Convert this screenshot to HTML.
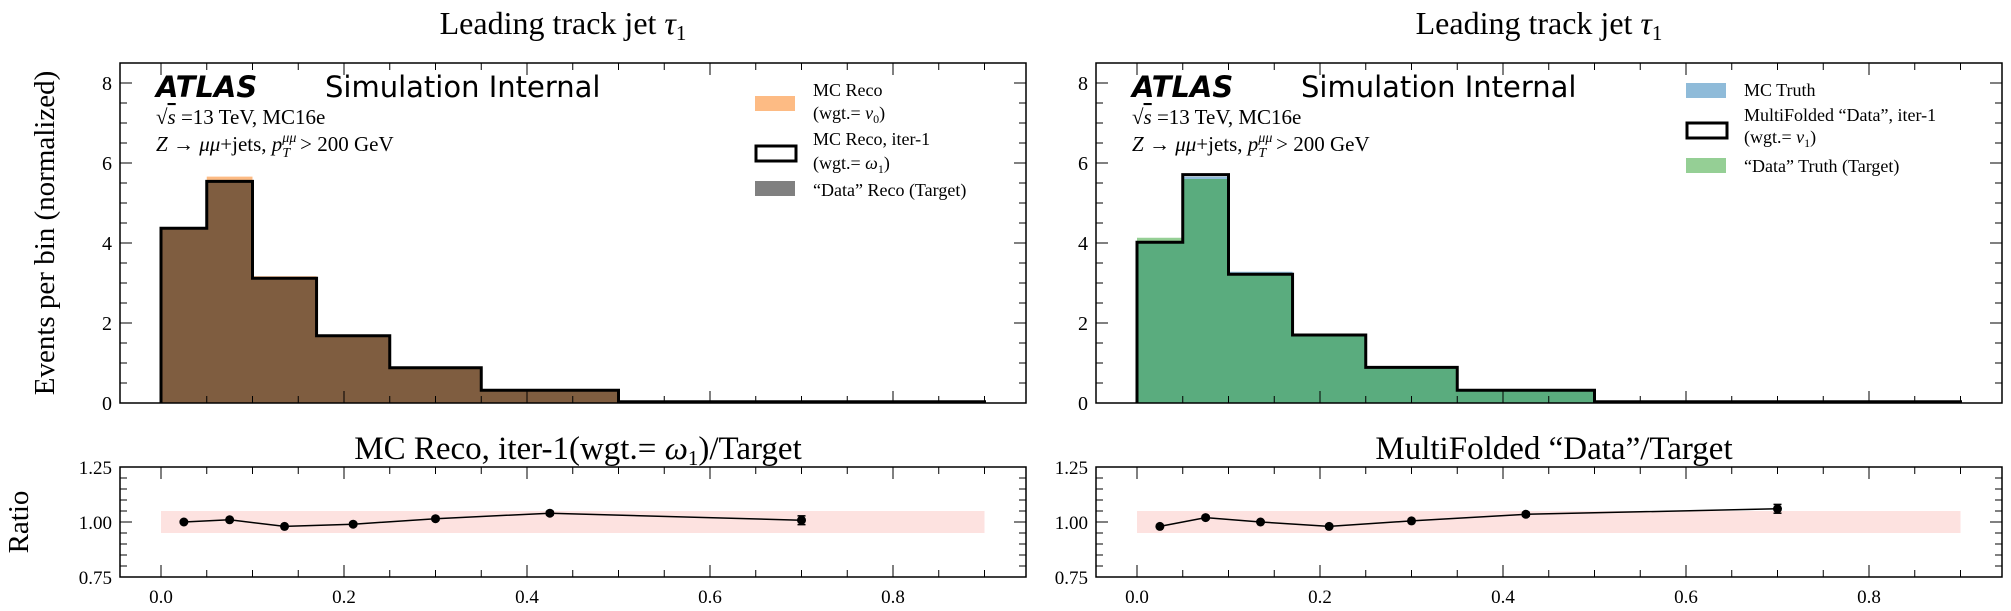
<!DOCTYPE html>
<html><head><meta charset="utf-8">
<style>
html,body{margin:0;padding:0;background:#fff;}
svg{display:block;}
text{font-family:"Liberation Serif","DejaVu Serif",serif;fill:#000;}
.sans{font-family:"DejaVu Sans","Liberation Sans",sans-serif;}
</style></head>
<body>
<svg id="chart" width="2011" height="611" viewBox="0 0 2011 611" xmlns="http://www.w3.org/2000/svg"></svg>
<script>
const edges = [0, 0.05, 0.1, 0.17, 0.25, 0.35, 0.5, 0.9];
const xTicks = [0.0, 0.2, 0.4, 0.6, 0.8];
const xTickLabels = ["0.0", "0.2", "0.4", "0.6", "0.8"];
const yTicks = [0, 2, 4, 6, 8];
const rTicks = [0.75, 1.00, 1.25];
const rTickLabels = ["0.75", "1.00", "1.25"];
const centers = [0.025, 0.075, 0.135, 0.21, 0.3, 0.425, 0.7];

// left panel
const leftMC = [4.37, 5.66, 3.17, 1.68, 0.88, 0.32, 0.03];
const leftIter = [4.37, 5.54, 3.12, 1.68, 0.88, 0.32, 0.03];
const leftRatio = [1.00, 1.01, 0.98, 0.99, 1.015, 1.04, 1.008];
const leftErr = [0.004, 0.005, 0.005, 0.006, 0.007, 0.008, 0.02];
// right panel
const rightTruth = [4.02, 5.66, 3.28, 1.70, 0.89, 0.32, 0.03];
const rightTarget = [4.13, 5.60, 3.22, 1.70, 0.89, 0.32, 0.03];
const rightIter = [4.02, 5.71, 3.22, 1.70, 0.89, 0.32, 0.03];
const rightRatio = [0.98, 1.02, 1.00, 0.98, 1.005, 1.035, 1.06];
const rightErr = [0.005, 0.007, 0.005, 0.005, 0.007, 0.008, 0.02];

const NS = "http://www.w3.org/2000/svg";
const svg = document.getElementById('chart');
function el(tag, attrs, parent, txt) {
  const e = document.createElementNS(NS, tag);
  for (const k in attrs) e.setAttribute(k, attrs[k]);
  if (txt !== undefined) e.textContent = txt;
  (parent || svg).appendChild(e);
  return e;
}

function panel(x0, opts) {
  const W = 906;
  const xs = v => x0 + 41 + v * 915;
  const mTop = 63, mBot = 403;
  const ys = v => mBot - v * 40;
  const rTop = 467, rBot = 577;
  const yr = v => rBot - (v - 0.75) * 220;
  const g = el('g', {});
  
  

  const t = el('text', {x: x0 + W / 2 - 10, y: 34, 'text-anchor': 'middle', 'font-size': 32}, g);
  
  
  t.innerHTML = 'Leading track jet <tspan font-style="italic">τ</tspan><tspan font-size="21" dy="6">1</tspan>';

  function stepPath(vals) {
    let d = `M${xs(edges[0])},${ys(0)}`;
    vals.forEach((v, i) => { d += ` L${xs(edges[i])},${ys(v)} L${xs(edges[i + 1])},${ys(v)}`; });
    d += ` L${xs(edges[edges.length - 1])},${ys(0)} Z`;
    return d;
  }
  opts.fills.forEach(f => {
    const p = el('path', {d: stepPath(f.vals), fill: f.color, stroke: 'none'}, g);
    
    
  });
  let d = `M${xs(edges[0])},${ys(0)}`;
  opts.line.forEach((v, i) => { d += ` L${xs(edges[i])},${ys(v)} L${xs(edges[i + 1])},${ys(v)}`; });
  d += ` L${xs(edges[edges.length - 1])},${ys(0)}`;
  const ol = el('path', {d: d, fill: 'none', stroke: '#000', 'stroke-width': 3}, g);
  
  

  const fr = el('rect', {x: x0, y: mTop, width: W, height: mBot - mTop, fill: 'none', stroke: '#000', 'stroke-width': 1.5}, g);
  
  
  for (let v = 0; v <= 0.9001; v += 0.05) {
    const maj = Math.abs(v / 0.2 - Math.round(v / 0.2)) < 1e-6;
    const L = maj ? 12 : 7;
    el('line', {x1: xs(v), x2: xs(v), y1: mBot, y2: mBot - L, stroke: '#000', 'stroke-width': 1}, g);
    el('line', {x1: xs(v), x2: xs(v), y1: mTop, y2: mTop + L, stroke: '#000', 'stroke-width': 1}, g);
  }
  for (let v = 0; v <= 8.5001; v += 0.5) {
    const maj = Math.abs(v / 2 - Math.round(v / 2)) < 1e-6;
    const L = maj ? 12 : 7;
    el('line', {x1: x0, x2: x0 + L, y1: ys(v), y2: ys(v), stroke: '#000', 'stroke-width': 1}, g);
    el('line', {x1: x0 + W, x2: x0 + W - L, y1: ys(v), y2: ys(v), stroke: '#000', 'stroke-width': 1}, g);
  }
  yTicks.forEach(v => {
    const tl = el('text', {x: x0 - 8, y: ys(v) + 7, 'text-anchor': 'end', 'font-size': 20}, g, String(v));
    
    
  });

  const a = el('text', {x: x0 + 36, y: 97, 'font-size': 29, 'font-weight': 'bold', 'font-style': 'italic', class: 'sans'}, g, 'ATLAS');
  
  
  const si = el('text', {x: x0 + 205, y: 97, 'font-size': 29, class: 'sans'}, g, 'Simulation Internal');
  
  
  const l1 = el('text', {x: x0 + 36, y: 124, 'font-size': 21}, g);
  l1.innerHTML = '√<tspan font-style="italic" text-decoration="overline">s</tspan> =13 TeV, MC16e';
  
  
  const l2 = el('text', {x: x0 + 36, y: 151, 'font-size': 21}, g);
  l2.innerHTML = '<tspan font-style="italic">Z</tspan> → <tspan font-style="italic">μμ</tspan>+jets, <tspan font-style="italic">p</tspan><tspan font-size="14" dy="-9" font-style="italic">μμ</tspan><tspan font-size="14" dx="-14" dy="15" font-style="italic">T</tspan><tspan dx="10" dy="-6">&gt; 200 GeV</tspan>';
  
  

  const lg = el('g', {}, g);
  
  
  opts.legend.forEach(e => {
    if (e.box) {
      const r = el('rect', {x: x0 + e.px, y: e.py, width: 40, height: 15, fill: 'none', stroke: '#000', 'stroke-width': 3}, lg);
      
      
    } else if (e.color) {
      const r = el('rect', {x: x0 + e.px, y: e.py, width: 40, height: 15, fill: e.color}, lg);
      
      
    }
    e.lines.forEach(ln => {
      const tt = el('text', {x: x0 + e.tx, y: ln[0], 'font-size': 18}, lg);
      tt.innerHTML = ln[1];
      
      
    });
  });

  const rt = el('text', {x: x0 + W / 2 + 5, y: 459, 'text-anchor': 'middle', 'font-size': 33}, g);
  rt.innerHTML = opts.ratioTitle;
  
  
  const band = el('rect', {x: xs(0), y: yr(1.05), width: xs(0.9) - xs(0), height: yr(0.95) - yr(1.05), fill: '#fde2e0'}, g);
  
  
  const rf = el('rect', {x: x0, y: rTop, width: W, height: rBot - rTop, fill: 'none', stroke: '#000', 'stroke-width': 1.5}, g);
  
  
  for (let v = 0; v <= 0.9001; v += 0.05) {
    const maj = Math.abs(v / 0.2 - Math.round(v / 0.2)) < 1e-6;
    const L = maj ? 12 : 7;
    el('line', {x1: xs(v), x2: xs(v), y1: rBot, y2: rBot - L, stroke: '#000', 'stroke-width': 1}, g);
    el('line', {x1: xs(v), x2: xs(v), y1: rTop, y2: rTop + L, stroke: '#000', 'stroke-width': 1}, g);
  }
  for (let v = 0.75; v <= 1.2501; v += 0.05) {
    const maj = Math.abs(v / 0.25 - Math.round(v / 0.25)) < 1e-6;
    const L = maj ? 12 : 7;
    el('line', {x1: x0, x2: x0 + L, y1: yr(v), y2: yr(v), stroke: '#000', 'stroke-width': 1}, g);
    el('line', {x1: x0 + W, x2: x0 + W - L, y1: yr(v), y2: yr(v), stroke: '#000', 'stroke-width': 1}, g);
  }
  rTicks.forEach((v, i) => {
    const tl = el('text', {x: x0 - 8, y: yr(v) + 7, 'text-anchor': 'end', 'font-size': 19}, g, rTickLabels[i]);
    
    
  });
  xTicks.forEach((v, i) => {
    const tl = el('text', {x: xs(v), y: 603, 'text-anchor': 'middle', 'font-size': 19}, g, xTickLabels[i]);
    
    
  });
  const pts = opts.ratio.map((v, i) => `${xs(centers[i])},${yr(v)}`).join(' ');
  const pl = el('polyline', {points: pts, fill: 'none', stroke: '#000', 'stroke-width': 1.5}, g);
  
  
  opts.ratio.forEach((v, i) => {
    const cx = xs(centers[i]);
    const e1 = yr(v + opts.err[i]), e2 = yr(v - opts.err[i]);
    el('line', {x1: cx, x2: cx, y1: e1, y2: e2, stroke: '#000', 'stroke-width': 1.5}, g);
    el('line', {x1: cx - 4, x2: cx + 4, y1: e1, y2: e1, stroke: '#000', 'stroke-width': 1.5}, g);
    el('line', {x1: cx - 4, x2: cx + 4, y1: e2, y2: e2, stroke: '#000', 'stroke-width': 1.5}, g);
    const c = el('circle', {cx: cx, cy: yr(v), r: 4.5, fill: '#000'}, g);
    
    
  });
}

panel(120, {
  name: 'left-panel',
  fills: [{vals: leftMC, color: '#fdbb84', name: 'mc-reco-histogram'},
          {vals: leftIter, color: '#7f5d40', name: 'data-reco-histogram'}],
  line: leftIter,
  ratio: leftRatio, err: leftErr,
  ratioTitle: 'MC Reco, iter-1(wgt.= <tspan font-style="italic">ω</tspan><tspan font-size="21" dy="6">1</tspan><tspan dy="-6">)/Target</tspan>',
  legend: [
    {px: 635, py: 96, color: '#fdbb84', tx: 693, lines: [[96, 'MC Reco'], [119, '(wgt.= <tspan font-style="italic">ν</tspan><tspan font-size="12" dy="4">0</tspan><tspan dy="-4">)</tspan>']]},
    {px: 636, py: 146, box: true, tx: 693, lines: [[145, 'MC Reco, iter-1'], [169, '(wgt.= <tspan font-style="italic">ω</tspan><tspan font-size="12" dy="4">1</tspan><tspan dy="-4">)</tspan>']]},
    {px: 635, py: 181, color: '#808080', tx: 693, lines: [[196, '“Data” Reco (Target)']]}
  ]
});
panel(1096, {
  name: 'right-panel',
  fills: [{vals: rightTruth, color: '#8fbbd9', name: 'mc-truth-histogram'},
          {vals: rightTarget, color: '#95cf95', name: 'data-truth-histogram-top'},
          {vals: rightTarget.map((v, i) => Math.min(v, rightTruth[i])), color: '#5aac7e', name: 'overlap-histogram'}],
  line: rightIter,
  ratio: rightRatio, err: rightErr,
  ratioTitle: 'MultiFolded “Data”/Target',
  legend: [
    {px: 590, py: 83, color: '#8fbbd9', tx: 648, lines: [[96, 'MC Truth']]},
    {px: 591, py: 123, box: true, tx: 648, lines: [[121, 'MultiFolded “Data”, iter-1'], [143, '(wgt.= <tspan font-style="italic">ν</tspan><tspan font-size="12" dy="4">1</tspan><tspan dy="-4">)</tspan>']]},
    {px: 590, py: 158, color: '#95cf95', tx: 648, lines: [[172, '“Data” Truth (Target)']]}
  ]
});

const yl = el('text', {x: 0, y: 0, 'font-size': 29, 'text-anchor': 'middle', transform: 'translate(54,233) rotate(-90)'}, svg, 'Events per bin (normalized)');


const rl = el('text', {x: 0, y: 0, 'font-size': 29, 'text-anchor': 'middle', transform: 'translate(28,522) rotate(-90)'}, svg, 'Ratio');


</script>
</body></html>
